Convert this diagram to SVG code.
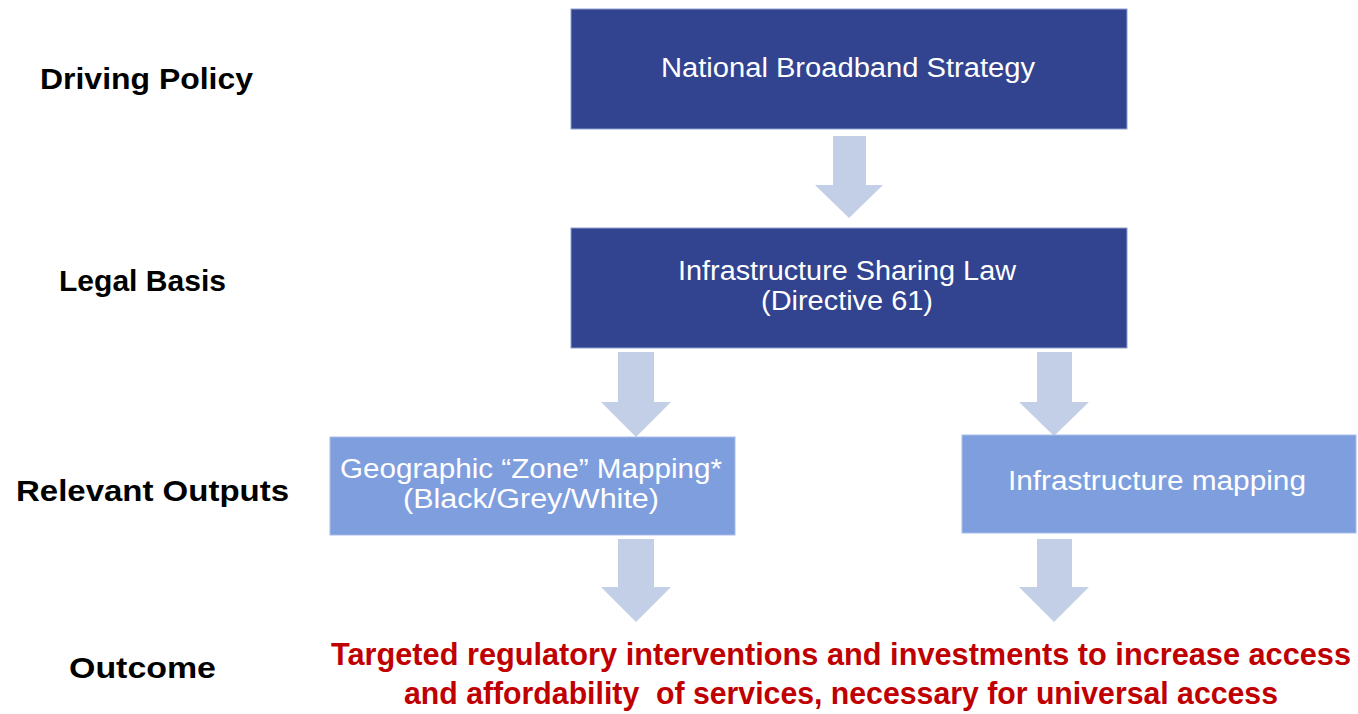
<svg xmlns="http://www.w3.org/2000/svg" width="1358" height="714" viewBox="0 0 1358 714">
<style>
.dark{fill:#32438F;stroke:#8FA0D0;stroke-width:1}
.light{fill:#7F9EDE;stroke:#A9BDEA;stroke-width:1}
.arrow{fill:#C3CFE7}
.bt{font-family:"Liberation Sans",Arial,sans-serif;font-size:27px;fill:#FFFFFF;text-anchor:middle}
.lbl{font-family:"Liberation Sans",Arial,sans-serif;font-size:30px;font-weight:bold;fill:#000000}
.out{font-family:"Liberation Sans",Arial,sans-serif;font-size:30.5px;font-weight:bold;fill:#C00000}
</style>
<rect width="1358" height="714" fill="#FFFFFF"/>
<g id="labels">
<text class="lbl" x="40" y="89" textLength="213" lengthAdjust="spacingAndGlyphs">Driving Policy</text>
<text class="lbl" x="59" y="291" textLength="167" lengthAdjust="spacingAndGlyphs">Legal Basis</text>
<text class="lbl" x="16" y="501" textLength="273" lengthAdjust="spacingAndGlyphs">Relevant Outputs</text>
<text class="lbl" x="69" y="678" textLength="147" lengthAdjust="spacingAndGlyphs">Outcome</text>
</g>
<g id="connectors">
<polygon class="arrow" points="833,136 866,136 866,185 883,185 849,218 815,185 833,185"/>
<polygon class="arrow" points="618,352 654,352 654,402 671,402 636,437 601,402 618,402"/>
<polygon class="arrow" points="1037,352 1072,352 1072,402 1089,402 1054,436 1019,402 1037,402"/>
<polygon class="arrow" points="618,539 654,539 654,587 671,587 636,622 601,587 618,587"/>
<polygon class="arrow" points="1037,539 1072,539 1072,587 1089,587 1054,622 1019,587 1037,587"/>
</g>
<g id="node-strategy">
<rect class="dark" x="571" y="9" width="556" height="120"/>
<text class="bt" x="848" y="77" textLength="374" lengthAdjust="spacingAndGlyphs">National Broadband Strategy</text>
</g>
<g id="node-law">
<rect class="dark" x="571" y="228" width="556" height="120"/>
<text class="bt" x="847" y="280" textLength="338" lengthAdjust="spacingAndGlyphs">Infrastructure Sharing Law</text>
<text class="bt" x="847" y="310" textLength="172" lengthAdjust="spacingAndGlyphs">(Directive 61)</text>
</g>
<g id="node-zone">
<rect class="light" x="330" y="437" width="405" height="98"/>
<text class="bt" x="531" y="478" textLength="382" lengthAdjust="spacingAndGlyphs">Geographic “Zone” Mapping*</text>
<text class="bt" x="531" y="508" textLength="256" lengthAdjust="spacingAndGlyphs">(Black/Grey/White)</text>
</g>
<g id="node-infra">
<rect class="light" x="962" y="435" width="394" height="98"/>
<text class="bt" x="1157" y="490" textLength="298" lengthAdjust="spacingAndGlyphs">Infrastructure mapping</text>
</g>
<g id="outcome">
<text class="out" x="331" y="665" textLength="1020" lengthAdjust="spacingAndGlyphs">Targeted regulatory interventions and investments to increase access</text>
<text class="out" x="404" y="704" textLength="874" lengthAdjust="spacingAndGlyphs" xml:space="preserve">and affordability  of services, necessary for universal access</text>
</g>
</svg>
